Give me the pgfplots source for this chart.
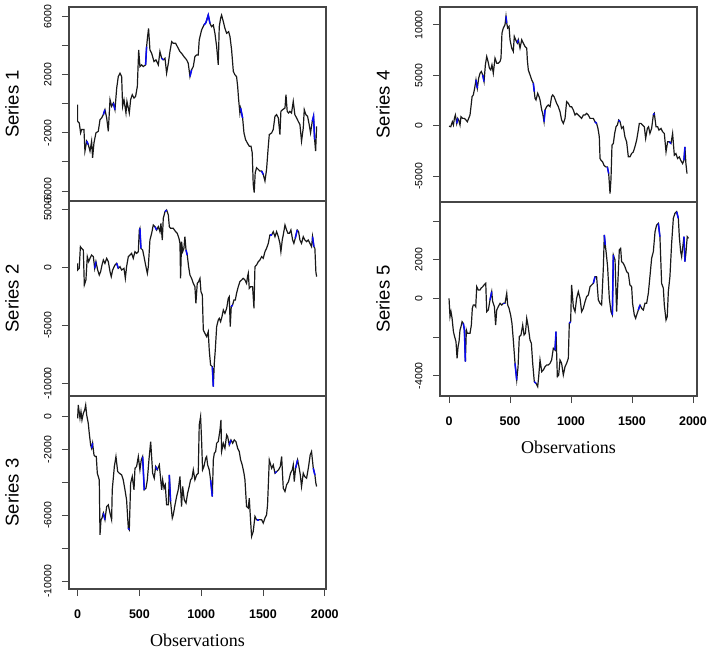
\documentclass[border=0pt]{standalone}
\usepackage{fontspec}
\setmainfont{Liberation Sans}
\newfontfamily\seriffont{Liberation Serif}
\usepackage{pgfplots}
\pgfplotsset{compat=1.18}
\definecolor{frame}{RGB}{70,70,70}
\definecolor{bl}{RGB}{10,10,245}
\pgfplotsset{
  panel/.style={
    scale only axis, width=257pt,
    axis line style={draw=frame, line width=1.1pt},
    tick style={frame, line width=0.9pt},
    tick align=outside, major tick length=7pt,
    ytick pos=left, xtick pos=bottom,
    scaled y ticks=false, scaled x ticks=false,
    /pgf/number format/assume math mode=true,
    yticklabel style={rotate=90, anchor=south, font=\fontsize{10.5}{10.5}\selectfont, yshift=7pt},
    xticklabel style={font=\fontsize{12.5}{12.5}\selectfont\bfseries, yshift=-10pt},
    ylabel style={at={(axis description cs:-0.2218,0.5)}, anchor=center, font=\fontsize{18.5}{18.5}\selectfont},
    xlabel style={at={(axis description cs:0.5,0)}, anchor=center, yshift=-51pt, font=\fontsize{18}{18}\selectfont\seriffont},
  },
  ser/.style={black!90, line width=1.2pt, line join=miter},
  blu/.style={bl, line width=1.5pt, forget plot},
}
\begin{document}
\begin{tikzpicture}
\path[use as bounding box] (0,0) rectangle (709pt,649pt);
% ---------- Series 1
\begin{axis}[panel, height=194pt, at={(69pt,448pt)}, anchor=south west,
  xmin=-70, xmax=2010, ymin=-6690, ymax=6670, xtick=\empty,
  ytick={-6000,-4000,-2000,0,2000,4000,6000},
  yticklabels={-6000,,-2000,,2000,,6000},
  ylabel={Series 1}]
\addplot[ser] coordinates {
(0,-60)(0,-1200)(13,-1320)(24,-2000)(32,-1770)(51,-1770)(59,-3260)(73,-2570)(86,-2800)(100,-3260)
(113,-2570)(121,-3720)(132,-2690)(148,-2000)(167,-1890)(181,-1090)(194,-970)(208,-740)(221,-400)(235,-970)
(248,-1890)(262,290)(275,-170)(289,60)(302,-400)(316,1085)(329,1885)(343,2110)(356,1885)(364,-170)
(375,290)(391,-630)(399,170)(418,-630)(429,290)(442,630)(456,400)(469,510)(483,1200)(494,3714)
(504,2570)(518,2685)(531,2570)(550,2685)(558,3943)(566,4630)(574,5200)(585,3714)(599,3485)(618,2914)
(634,3030)(653,2685)(666,3600)(680,3140)(693,3030)(707,3140)(720,2114)(734,2800)(747,3600)(761,4285)
(774,4170)(793,4170)(814,3830)(828,3600)(841,3485)(860,3257)(882,3030)(895,2800)(909,1885)(922,2340)
(936,2570)(949,3257)(963,3370)(976,3370)(984,4400)(1003,5085)(1022,5430)(1038,5590)(1057,6114)(1071,5540)
(1084,5315)(1098,5430)(1111,4860)(1125,3943)(1138,2685)(1146,5315)(1157,5885)(1165,6114)(1179,5660)(1192,5200)
(1206,4860)(1222,4970)(1233,4630)(1246,3714)(1260,2230)(1273,2000)(1286,1885)(1295,1200)(1303,285)(1313,-630)
(1319,-290)(1335,-970)(1346,-2000)(1359,-2460)(1373,-2690)(1389,-2915)(1403,-2915)(1413,-3370)(1421,-5545)(1429,-6116)
(1437,-4745)(1448,-4400)(1462,-4515)(1475,-4630)(1489,-4630)(1502,-4860)(1516,-5315)(1529,-4515)(1543,-2915)(1551,-2115)
(1570,-2000)(1583,-1770)(1597,-860)(1610,-745)(1624,-970)(1637,-2115)(1645,-515)(1659,-400)(1678,-285)(1686,630)
(1696,-515)(1707,-630)(1718,-515)(1731,-630)(1745,170)(1758,-745)(1772,-970)(1785,-1200)(1799,-1430)(1812,-2570)
(1826,-1660)(1834,-400)(1847,-745)(1861,-860)(1874,-1430)(1885,-2000)(1899,-1200)(1909,-860)(1918,-2460)(1926,-3260)
(1934,-1545)};
\addplot[blu] coordinates {(73,-2570)(86,-2800)};
\addplot[blu] coordinates {(208,-740)(221,-400)};
\addplot[blu] coordinates {(289,60)(302,-400)};
\addplot[blu] coordinates {(550,2685)(558,3943)};
\addplot[blu] coordinates {(680,3140)(693,3030)};
\addplot[blu] coordinates {(909,1885)(922,2340)};
\addplot[blu] coordinates {(1022,5430)(1038,5590)(1057,6114)(1071,5540)};
\addplot[blu] coordinates {(1319,-290)(1335,-970)};
\addplot[blu] coordinates {(1489,-4630)(1502,-4860)};
\addplot[blu] coordinates {(1899,-1200)(1909,-860)(1918,-2460)};
\end{axis}
% ---------- Series 2
\begin{axis}[panel, height=195pt, at={(69pt,253pt)}, anchor=south west,
  xmin=-70, xmax=2010, ymin=-11074, ymax=5709, xtick=\empty,
  ytick={-10000,-5000,0,5000},
  yticklabels={-10000,-5000,0,5000},
  ylabel={Series 2}]
\addplot[ser] coordinates {
(0,344)(0,-230)(13,-86)(22,1779)(32,1635)(46,1492)(54,-1521)(67,-1090)(78,918)(89,488)
(100,775)(113,1062)(127,918)(138,-86)(148,488)(162,-230)(175,-660)(186,-373)(197,201)(208,631)
(221,344)(235,775)(248,488)(262,-373)(272,-803)(283,-230)(302,201)(316,344)(329,-86)(343,57)
(356,-230)(375,-86)(386,-947)(396,57)(410,918)(423,1062)(437,1205)(450,775)(464,1348)(477,1205)
(491,1348)(499,3213)(504,3357)(512,1635)(526,1492)(537,918)(550,201)(564,-516)(572,57)(585,2353)
(599,2926)(612,3644)(626,3500)(639,3213)(653,3500)(666,3070)(674,3787)(685,2353)(693,4217)(707,4791)
(720,4935)(734,4504)(742,3500)(752,3357)(774,3357)(793,3070)(806,2926)(820,2496)(828,2066)(833,-947)
(841,2209)(850,1348)(860,1635)(868,2640)(877,1492)(887,1062)(898,57)(909,-660)(922,-947)(936,-1377)
(949,-1664)(957,-3099)(968,-1377)(979,-1234)(990,-947)(998,-2094)(1009,-2381)(1017,-5394)(1030,-5681)(1044,-5968)
(1057,-5537)(1065,-7115)(1076,-8406)(1090,-8550)(1098,-10271)(1106,-8263)(1114,-7115)(1125,-5107)(1138,-4533)(1146,-4390)
(1157,-4676)(1168,-4246)(1179,-3672)(1192,-3959)(1206,-3529)(1219,-2668)(1227,-2525)(1235,-5107)(1243,-3385)(1254,-3242)
(1265,-2812)(1276,-2812)(1286,-2238)(1300,-1664)(1313,-1234)(1327,-1090)(1340,-947)(1354,-1090)(1367,-1377)(1375,-803)
(1381,-516)(1389,-1807)(1400,-1664)(1416,-1664)(1427,-3529)(1435,57)(1448,201)(1462,488)(1475,631)(1489,918)
(1502,775)(1516,1348)(1529,1635)(1543,2066)(1556,2783)(1570,2783)(1583,3070)(1597,2640)(1610,3070)(1624,2640)
(1637,2066)(1645,1348)(1656,2353)(1664,2783)(1678,3644)(1691,3213)(1702,2926)(1713,2926)(1726,3213)(1740,2353)
(1750,2066)(1761,2496)(1777,3213)(1788,3070)(1799,2353)(1812,2066)(1826,2640)(1839,2353)(1853,2209)(1866,2353)
(1880,2066)(1893,1779)(1901,2640)(1912,1779)(1920,1635)(1928,-373)(1934,-803)};
\addplot[blu] coordinates {(138,-86)(148,488)};
\addplot[blu] coordinates {(316,344)(329,-86)};
\addplot[blu] coordinates {(504,3357)(512,1635)};
\addplot[blu] coordinates {(626,3500)(639,3213)};
\addplot[blu] coordinates {(707,4791)(720,4935)};
\addplot[blu] coordinates {(877,1492)(887,1062)};
\addplot[blu] coordinates {(1090,-8550)(1098,-10271)};
\addplot[blu] coordinates {(1243,-3385)(1254,-3242)};
\addplot[blu] coordinates {(1556,2783)(1570,2783)};
\addplot[blu] coordinates {(1761,2496)(1777,3213)};
\addplot[blu] coordinates {(1901,2640)(1912,1779)};
\end{axis}
% ---------- Series 3
\begin{axis}[panel, height=193pt, at={(69pt,60pt)}, anchor=south west,
  xmin=-70, xmax=2010, ymin=-10464, ymax=1252,
  xtick={0,500,1000,1500,2000}, xticklabels={0,500,1000,1500,2000},
  ytick={-10000,-8000,-6000,-4000,-2000,0},
  yticklabels={-10000,,-6000,,-2000,0},
  ylabel={Series 3}, xlabel={Observations}]
\addplot[ser] coordinates {
(0,-101)(5,707)(19,-101)(27,303)(35,-202)(46,202)(57,404)(65,707)(73,101)(86,-404)
(94,-1010)(105,-1717)(113,-1919)(121,-1616)(132,-2323)(143,-2424)(151,-2424)(159,-3434)(167,-3636)(175,-3838)
(181,-7171)(189,-6262)(197,-6161)(208,-5858)(221,-6262)(235,-5454)(248,-5353)(262,-5858)(275,-6262)(280,-4444)
(297,-3030)(310,-2424)(324,-3333)(337,-3434)(356,-3535)(369,-3838)(383,-4444)(396,-5050)(410,-6767)(418,-6868)
(429,-4040)(442,-3636)(456,-4444)(464,-3131)(477,-3030)(491,-2424)(504,-3232)(515,-2626)(526,-2424)(539,-4444)
(553,-4343)(564,-3838)(577,-2626)(591,-1515)(607,-3434)(620,-3737)(631,-3030)(645,-3232)(661,-2929)(680,-4444)
(688,-3838)(699,-4343)(709,-4141)(720,-5353)(734,-5353)(742,-3535)(752,-5151)(766,-6161)(774,-5959)(788,-5353)
(801,-4848)(814,-4444)(828,-3636)(841,-5454)(850,-4242)(863,-5050)(877,-5252)(890,-4646)(903,-4242)(914,-3838)
(925,-3737)(936,-3232)(949,-3838)(963,-3535)(976,-3434)(984,-505)(995,0)(1003,-1414)(1011,-3232)(1022,-3030)
(1036,-2525)(1044,-2424)(1052,-2929)(1065,-3232)(1076,-3838)(1090,-4848)(1098,-2626)(1106,-2222)(1117,-2121)(1125,-1616)
(1138,-1515)(1152,-808)(1160,-202)(1165,-2121)(1179,-1616)(1192,-1919)(1206,-1111)(1214,-1212)(1227,-1717)(1241,-1414)
(1254,-1616)(1268,-1414)(1281,-1515)(1295,-1919)(1308,-2121)(1319,-2626)(1332,-2929)(1346,-3434)(1354,-3838)(1367,-5454)
(1381,-5555)(1389,-4949)(1400,-6363)(1408,-7272)(1421,-6969)(1435,-6060)(1448,-6262)(1470,-6262)(1489,-6262)(1502,-6464)
(1516,-6161)(1529,-5959)(1537,-5353)(1551,-2626)(1570,-3131)(1583,-2929)(1597,-3434)(1610,-3333)(1626,-3232)(1640,-3030)
(1651,-2424)(1664,-4343)(1678,-4545)(1691,-4141)(1707,-3939)(1723,-3434)(1737,-3232)(1745,-2929)(1753,-3939)(1764,-3131)
(1780,-2626)(1791,-3030)(1802,-3535)(1812,-4242)(1826,-3434)(1837,-3636)(1853,-3737)(1869,-3030)(1882,-2323)(1893,-2121)
(1907,-3131)(1920,-3535)(1928,-4040)(1934,-4242)};
\addplot[blu] coordinates {(113,-1919)(121,-1616)};
\addplot[blu] coordinates {(208,-5858)(221,-6262)};
\addplot[blu] coordinates {(410,-6767)(418,-6868)};
\addplot[blu] coordinates {(526,-2424)(539,-4444)};
\addplot[blu] coordinates {(631,-3030)(645,-3232)};
\addplot[blu] coordinates {(742,-3535)(752,-5151)};
\addplot[blu] coordinates {(1076,-3838)(1090,-4848)};
\addplot[blu] coordinates {(1227,-1717)(1241,-1414)};
\addplot[blu] coordinates {(1448,-6262)(1470,-6262)};
\addplot[blu] coordinates {(1597,-3434)(1610,-3333)};
\addplot[blu] coordinates {(1764,-3131)(1780,-2626)};
\addplot[blu] coordinates {(1907,-3131)(1920,-3535)};
\end{axis}
% ---------- Series 4
\begin{axis}[panel, height=195pt, at={(440pt,447pt)}, anchor=south west,
  xmin=-74, xmax=2033, ymin=-7565, ymax=11779, xtick=\empty,
  ytick={-5000,0,5000,10000},
  yticklabels={-5000,0,5000,10000},
  ylabel={Series 4}]
\addplot[ser] coordinates {
(0,-33)(14,-100)(27,398)(36,66)(44,730)(52,1062)(63,232)(71,730)(79,564)(90,66)
(98,896)(112,730)(126,730)(139,564)(150,398)(161,730)(172,1062)(180,1891)(189,2887)(199,3053)
(210,3716)(221,4546)(232,3716)(243,4712)(254,5209)(265,5375)(276,5043)(287,4380)(298,6039)(309,6868)
(320,6371)(331,5707)(342,5541)(352,6039)(363,5209)(377,6702)(391,6205)(404,6205)(418,6371)(426,6702)
(434,9191)(445,9689)(459,10020)(467,10850)(473,10186)(481,9689)(492,9855)(500,8527)(514,7698)(527,7366)
(535,8859)(546,8527)(560,8195)(568,8527)(582,7698)(596,8527)(609,8195)(623,7864)(637,7698)(642,6536)
(650,5541)(664,5043)(678,4546)(691,4214)(699,3384)(705,2721)(713,2555)(727,3218)(738,2887)(746,2555)
(760,1559)(768,1228)(779,398)(787,1559)(800,1891)(814,2057)(828,1891)(841,2887)(850,3053)(861,2887)
(872,2555)(882,2223)(896,1891)(910,1394)(923,564)(937,232)(951,730)(964,2389)(978,2223)(992,1891)
(1005,1891)(1019,1559)(1033,1062)(1046,1228)(1060,1062)(1074,896)(1087,730)(1101,1062)(1115,1062)(1128,1228)
(1142,1062)(1156,730)(1169,730)(1183,730)(1197,398)(1210,232)(1221,-265)(1232,-1095)(1238,-3252)(1246,-3418)
(1259,-3583)(1270,-3915)(1284,-4081)(1298,-4081)(1309,-4745)(1320,-6736)(1328,-5242)(1336,-1924)(1347,-1759)(1358,-763)
(1369,-100)(1380,66)(1391,564)(1402,398)(1415,-265)(1429,-100)(1442,-1095)(1456,-1593)(1470,-3086)(1483,-3086)
(1497,-2754)(1511,-2588)(1524,-2090)(1538,-1427)(1552,-431)(1560,232)(1574,232)(1587,66)(1601,-100)(1612,-1261)
(1626,-265)(1636,-100)(1647,-763)(1661,-265)(1675,1062)(1683,1228)(1697,-100)(1710,-100)(1721,-431)(1738,-265)
(1751,-597)(1765,-763)(1779,-2588)(1792,-1593)(1806,-1593)(1820,-1759)(1833,-763)(1847,-2920)(1860,-2754)(1874,-3252)
(1888,-3086)(1899,-3418)(1915,-3749)(1926,-3418)(1934,-2090)(1942,-3749)(1951,-4745)};
\addplot[blu] coordinates {(63,232)(71,730)};
\addplot[blu] coordinates {(221,4546)(232,3716)};
\addplot[blu] coordinates {(276,5043)(287,4380)};
\addplot[blu] coordinates {(467,10850)(473,10186)};
\addplot[blu] coordinates {(560,8195)(568,8527)};
\addplot[blu] coordinates {(691,4214)(699,3384)};
\addplot[blu] coordinates {(779,398)(787,1559)};
\addplot[blu] coordinates {(1197,398)(1210,232)};
\addplot[blu] coordinates {(1298,-4081)(1309,-4745)};
\addplot[blu] coordinates {(1391,564)(1402,398)};
\addplot[blu] coordinates {(1675,1062)(1683,1228)};
\addplot[blu] coordinates {(1806,-1593)(1820,-1759)};
\addplot[blu] coordinates {(1926,-3418)(1934,-2090)};
\end{axis}
% ---------- Series 5
\begin{axis}[panel, height=194pt, at={(440pt,253pt)}, anchor=south west,
  xmin=-74, xmax=2033, ymin=-5051, ymax=4982,
  xtick={0,500,1000,1500,2000}, xticklabels={0,500,1000,1500,2000},
  ytick={-4000,-2000,0,2000,4000},
  yticklabels={-4000,,0,2000,},
  ylabel={Series 5}, xlabel={Observations}]
\addplot[ser] coordinates {
(0,0)(8,-948)(16,-690)(25,-1034)(36,-1724)(46,-1983)(57,-2241)(66,-3103)(74,-2500)(82,-2241)
(90,-1638)(98,-1465)(107,-1207)(117,-1293)(126,-1638)(134,-3276)(142,-1638)(150,-1810)(161,-1810)(172,-1810)
(183,-1379)(191,-517)(199,-345)(210,-345)(219,-431)(227,603)(240,431)(254,431)(262,517)(276,603)
(287,690)(301,776)(309,-690)(322,-603)(336,-86)(350,345)(358,-172)(372,-431)(382,-1379)(391,-603)
(404,-431)(418,-259)(432,-345)(445,-259)(459,-259)(473,259)(481,-345)(492,-517)(505,-862)(516,-1293)
(527,-2155)(541,-3362)(555,-4224)(566,-3534)(576,-1983)(590,-1896)(604,-1379)(615,-1896)(626,-1810)(637,-1034)
(647,-1379)(664,-2155)(675,-2327)(686,-3362)(699,-4310)(713,-4396)(727,-4569)(735,-4051)(746,-3189)(760,-3793)
(773,-3707)(787,-3534)(800,-3448)(814,-3448)(828,-3362)(841,-3189)(855,-2586)(869,-2672)(877,-1724)(888,-4051)
(899,-3965)(910,-3189)(923,-3362)(937,-3965)(951,-3534)(964,-3362)(978,-3103)(986,-1293)(997,-1207)(1005,690)
(1019,-431)(1033,-690)(1046,0)(1060,345)(1074,0)(1087,-690)(1101,-517)(1115,-172)(1128,86)(1142,172)
(1156,603)(1169,690)(1183,776)(1197,1121)(1210,1121)(1224,-86)(1238,-259)(1251,-345)(1265,1552)(1273,3276)
(1281,2758)(1289,2327)(1300,1638)(1314,0)(1328,-690)(1339,-862)(1347,2241)(1361,1983)(1374,-690)(1382,517)
(1396,2500)(1407,2586)(1415,1896)(1429,1810)(1442,1638)(1456,1379)(1470,1293)(1483,690)(1497,603)(1505,-259)
(1519,-862)(1530,-1034)(1538,-862)(1552,-603)(1566,-345)(1579,-517)(1593,-603)(1606,-259)(1620,-259)(1634,259)
(1647,1121)(1661,2069)(1675,2414)(1689,3448)(1702,3793)(1716,3879)(1729,3189)(1743,776)(1757,517)(1765,-345)
(1779,-1121)(1789,-948)(1798,345)(1811,1121)(1825,2845)(1839,4138)(1852,4396)(1866,4482)(1880,4138)(1888,3189)
(1899,2414)(1907,2155)(1915,2586)(1926,3189)(1934,1896)(1942,2327)(1953,3189)(1964,3103)};
\addplot[blu] coordinates {(117,-1293)(126,-1638)(134,-3276)};
\addplot[blu] coordinates {(336,-86)(350,345)};
\addplot[blu] coordinates {(445,-259)(459,-259)};
\addplot[blu] coordinates {(541,-3362)(555,-4224)};
\addplot[blu] coordinates {(699,-4310)(713,-4396)};
\addplot[blu] coordinates {(869,-2672)(877,-1724)};
\addplot[blu] coordinates {(986,-1293)(997,-1207)};
\addplot[blu] coordinates {(1183,776)(1197,1121)};
\addplot[blu] coordinates {(1273,3276)(1281,2758)};
\addplot[blu] coordinates {(1339,-862)(1347,2241)};
\addplot[blu] coordinates {(1552,-603)(1566,-345)};
\addplot[blu] coordinates {(1716,3879)(1729,3189)};
\addplot[blu] coordinates {(1866,4482)(1880,4138)};
\addplot[blu] coordinates {(1926,3189)(1934,1896)};
\end{axis}
\end{tikzpicture}
\end{document}
